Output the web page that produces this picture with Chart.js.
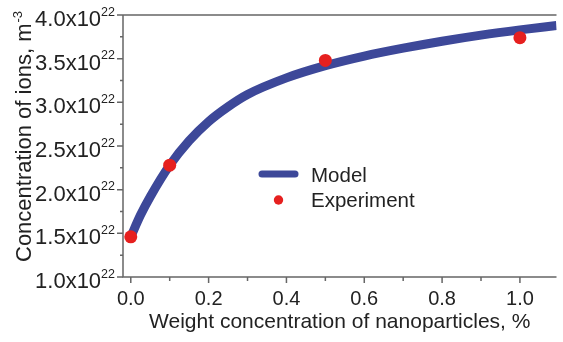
<!DOCTYPE html>
<html>
<head>
<meta charset="utf-8">
<script src="https://cdn.jsdelivr.net/npm/chart.js@4.4.0/dist/chart.umd.min.js"></script>
<style>
html,body{margin:0;padding:0;background:#fff;}
canvas{display:block;}
</style>
</head>
<body>
<canvas id="c" width="563" height="342"></canvas>
<script>
// ---- data (concentration in units of 1e22 m^-3) ----
const modelX = [0, 0.025, 0.05, 0.1, 0.15, 0.2, 0.25, 0.3, 0.4, 0.5, 0.6, 0.7, 0.8, 0.9, 1.0, 1.094];
const modelY = [1.46, 1.71, 1.92, 2.28, 2.56, 2.78, 2.95, 3.09, 3.28, 3.42, 3.53, 3.62, 3.70, 3.77, 3.83, 3.88];
const expX = [0, 0.1, 0.5, 1.0];
const expY = [1.46, 2.28, 3.48, 3.74];
const xTicks = [0, 0.2, 0.4, 0.6, 0.8, 1.0];
const xTickLabels = ["0.0", "0.2", "0.4", "0.6", "0.8", "1.0"];
const xMinorTicks = [0.1, 0.3, 0.5, 0.7, 0.9];
const yTicks = [1.0, 1.5, 2.0, 2.5, 3.0, 3.5, 4.0];
const yTickLabels = ["1.0x10", "1.5x10", "2.0x10", "2.5x10", "3.0x10", "3.5x10", "4.0x10"];
const yTickExp = "22";
const yMinorTicks = [1.25, 1.75, 2.25, 2.75, 3.25, 3.75];
const seriesNames = ["Model", "Experiment"];
const xTitle = "Weight concentration of nanoparticles, %";
const yTitle = "Concentration of ions, m";
const yTitleExp = "-3";

const FONT = "'Liberation Sans', Arial, Helvetica, sans-serif";
const AXIS = "#666666";
const TEXT = "#222222";
const BLUE = "#3d4899";
const RED = "#e6201f";

const decor = {
  id: 'decor',
  afterDatasetsDraw(chart) {
    const ctx = chart.ctx;
    const xs = chart.scales.x, ys = chart.scales.y;
    const a = chart.chartArea;
    ctx.save();
    ctx.strokeStyle = AXIS;
    ctx.lineWidth = 1.5;
    ctx.beginPath();
    ctx.moveTo(a.left, a.top); ctx.lineTo(a.left, a.bottom); ctx.lineTo(a.right, a.bottom);
    ctx.moveTo(a.left, a.top); ctx.lineTo(a.right, a.top);
    ctx.stroke();
    ctx.beginPath();
    xTicks.forEach(v => { const p = xs.getPixelForValue(v); ctx.moveTo(p, a.bottom); ctx.lineTo(p, a.bottom + 6); });
    xMinorTicks.forEach(v => { const p = xs.getPixelForValue(v); ctx.moveTo(p, a.bottom); ctx.lineTo(p, a.bottom + 4); });
    yTicks.forEach(v => { const p = ys.getPixelForValue(v); ctx.moveTo(a.left, p); ctx.lineTo(a.left - 6, p); });
    yMinorTicks.forEach(v => { const p = ys.getPixelForValue(v); ctx.moveTo(a.left, p); ctx.lineTo(a.left - 3, p); });
    ctx.stroke();

    ctx.fillStyle = TEXT;
    ctx.font = "20px " + FONT;
    ctx.textAlign = "center";
    ctx.textBaseline = "alphabetic";
    xTicks.forEach((v, i) => { ctx.fillText(xTickLabels[i], xs.getPixelForValue(v), 305); });
    yTicks.forEach((v, i) => {
      const p = ys.getPixelForValue(v);
      ctx.font = "12.5px " + FONT;
      const supW = ctx.measureText(yTickExp).width;
      ctx.textAlign = "right";
      ctx.fillText(yTickExp, 115, p + 0.5);
      ctx.font = "22px " + FONT;
      ctx.fillText(yTickLabels[i], 115 - supW, p + 11);
    });
    ctx.font = "21px " + FONT;
    ctx.textAlign = "center";
    ctx.fillText(xTitle, (a.left + a.right) / 2, 328);
    ctx.save();
    ctx.translate(31, 262);
    ctx.rotate(-Math.PI / 2);
    ctx.textAlign = "left";
    ctx.font = "22px " + FONT;
    ctx.fillText(yTitle, 0, 0);
    const w = ctx.measureText(yTitle).width;
    ctx.font = "13px " + FONT;
    ctx.fillText(yTitleExp, w + 1, -9);
    ctx.restore();

    // legend
    ctx.strokeStyle = BLUE;
    ctx.lineWidth = 7;
    ctx.lineCap = "round";
    ctx.beginPath(); ctx.moveTo(262, 174); ctx.lineTo(295, 174); ctx.stroke();
    ctx.fillStyle = RED;
    ctx.beginPath(); ctx.arc(278.5, 200, 4.7, 0, Math.PI * 2); ctx.fill();
    ctx.fillStyle = TEXT;
    ctx.font = "20.5px " + FONT;
    ctx.textAlign = "left";
    ctx.fillText(seriesNames[0], 311, 182);
    ctx.fillText(seriesNames[1], 311, 206.5);
    ctx.restore();
  }
};

new Chart(document.getElementById('c'), {
  type: 'line',
  data: {
    datasets: [
      {
        label: seriesNames[1],
        data: expX.map((x, i) => ({ x: x, y: expY[i] })),
        showLine: false,
        pointRadius: 6.5,
        pointBackgroundColor: RED,
        pointBorderWidth: 0,
        order: 0
      },
      {
        label: seriesNames[0],
        data: modelX.map((x, i) => ({ x: x, y: modelY[i] })),
        borderColor: BLUE,
        borderWidth: 9,
        pointRadius: 0,
        cubicInterpolationMode: 'monotone',
        fill: false,
        order: 1
      }
    ]
  },
  options: {
    responsive: false,
    animation: false,
    devicePixelRatio: 1,
    layout: { padding: { left: 123, top: 15, right: 0, bottom: 65 } },
    plugins: { legend: { display: false }, tooltip: { enabled: false } },
    scales: {
      x: {
        type: 'linear', min: -0.02, max: 1.094,
        grid: { display: false }, border: { display: false },
        ticks: { display: false },
        afterFit(s) { s.height = 0; }
      },
      y: {
        type: 'linear', min: 1.0, max: 4.0,
        grid: { display: false }, border: { display: false },
        ticks: { display: false },
        afterFit(s) { s.width = 0; }
      }
    }
  },
  plugins: [decor]
});
</script>
</body>
</html>
